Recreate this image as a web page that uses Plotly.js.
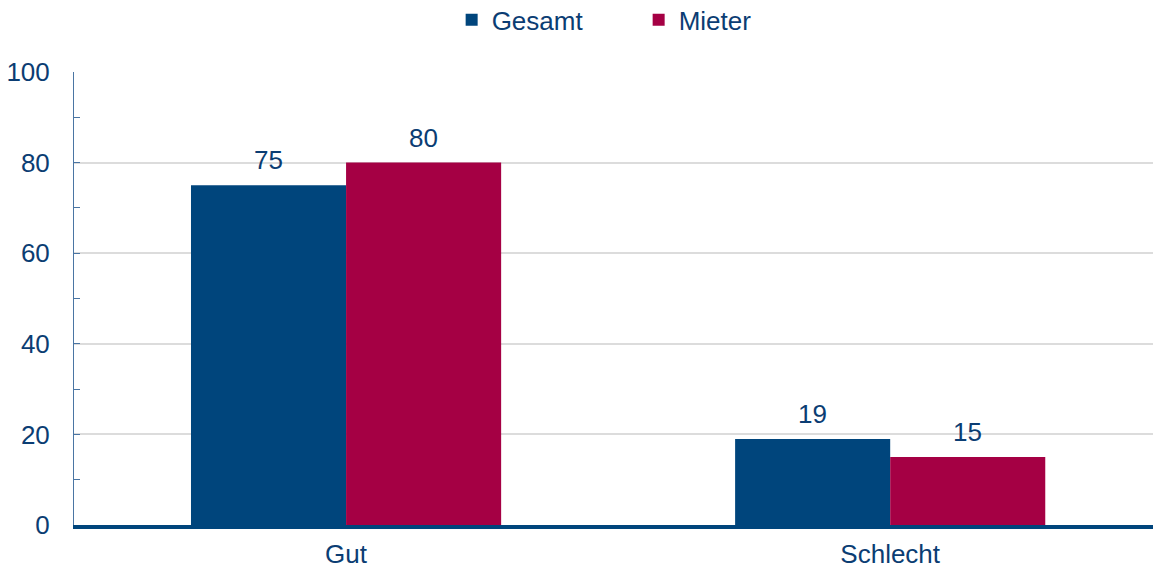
<!DOCTYPE html>
<html>
<head>
<meta charset="utf-8">
<script src="https://cdn.plot.ly/plotly-3.0.1.min.js"></script>
<style>html,body{margin:0;padding:0;background:#fff;}#chart{width:1153px;height:568px;}</style>
</head>
<body>
<div id="chart"></div>
<script>
const categories = ["Gut", "Schlecht"];
const seriesNames = ["Gesamt", "Mieter"];
const gesamt = [75, 19];
const mieter = [80, 15];
const yTicks = [0, 20, 40, 60, 80, 100];

const textColor = "#0b3d73";
const font = {family: "Liberation Sans, Arial, sans-serif", size: 26, color: textColor};

const traces = [
  {type: "bar", name: seriesNames[0], x: categories, y: gesamt, marker: {color: "#00457c"}, hoverinfo: "x+y"},
  {type: "bar", name: seriesNames[1], x: categories, y: mieter, marker: {color: "#a50044"}, hoverinfo: "x+y"}
];

const annotations = [];
[gesamt, mieter].forEach((vals, si) => {
  vals.forEach((v, i) => {
    annotations.push({
      x: categories[i], y: v, xref: "x", yref: "y",
      text: String(v), showarrow: false, yanchor: "bottom",
      xshift: si === 0 ? -77.5 : 77.5, yshift: 8,
      font: font
    });
  });
});

const layout = {
  width: 1153, height: 568,
  margin: {l: 74, r: 0, t: 72, b: 43, autoexpand: false},
  paper_bgcolor: "#fff", plot_bgcolor: "#fff",
  font: font,
  barmode: "group", bargap: 0.43, bargroupgap: 0,
  showlegend: true,
  legend: {orientation: "h", x: 0.350, xanchor: "left", xref: "paper", y: 1.115, yanchor: "middle", yref: "paper", font: font, traceorder: "normal", itemwidth: 30, entrywidth: 142},
  xaxis: {
    type: "category", range: [-0.5, 1.483], fixedrange: true,
    showline: true, linecolor: "#00457c", linewidth: 4,
    showgrid: false, zeroline: false, ticks: "",
    tickfont: font, ticklabelstandoff: 3
  },
  yaxis: {
    range: [0, 100], tickvals: yTicks, ticktext: yTicks.map(String),
    showline: true, linecolor: "#4a75a3", linewidth: 1,
    showgrid: true, gridcolor: "#dcdcdc", gridwidth: 2,
    zeroline: false,
    ticks: "inside", ticklen: 6, tickcolor: "#4a75a3", tickwidth: 1,
    minor: {dtick: 10, ticks: "inside", ticklen: 6, tickcolor: "#4a75a3", showgrid: false},
    tickfont: font, ticklabelstandoff: 18
  },
  annotations: annotations
};

Plotly.newPlot("chart", traces, layout, {displayModeBar: false, staticPlot: true});
</script>
</body>
</html>
